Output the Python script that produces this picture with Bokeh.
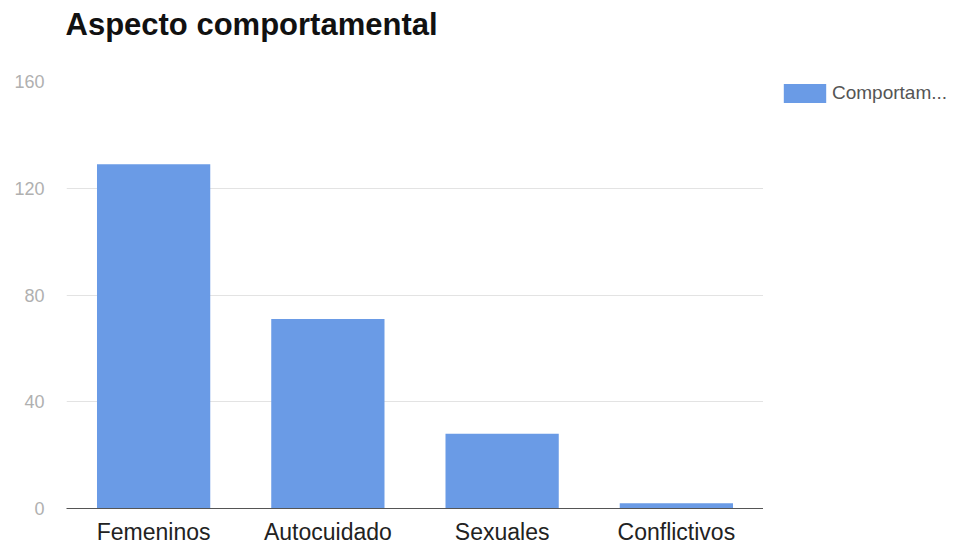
from bokeh.plotting import figure
from bokeh.models import ColumnDataSource, FixedTicker, Legend, LegendItem, Range1d, Title
from bokeh.layouts import row
from bokeh.embed import file_html
from bokeh.resources import INLINE

categories = ["Femeninos", "Autocuidado", "Sexuales", "Conflictivos"]
values = [129, 71, 28, 2]
y_ticks = [0, 40, 80, 120, 160]
series_name = "Comportam..."
title_text = "Aspecto comportamental"
bar_color = "#6a9be6"

src = ColumnDataSource(dict(cat=categories, val=values))

p = figure(x_range=categories, y_range=Range1d(0, 160), width=763, height=547,
           output_backend="svg", toolbar_location=None, title=None,
           min_border_left=66, min_border_right=0, min_border_top=0, min_border_bottom=38)
p.x_range.range_padding = 0

# spacer panel between frame and title, then the title itself (further out)
spacer = Title(text=" ", text_font_size="10px", standoff=19, vertical_align="top")
p.add_layout(spacer, "above")
main_title = Title(text=title_text, text_font="Liberation Sans", text_font_size="31px",
                   text_font_style="bold", text_color="#111111", offset=-1,
                   vertical_align="top", standoff=12)
p.add_layout(main_title, "above")

r = p.vbar(x="cat", top="val", width=0.65, source=src, color=bar_color, line_color=None)

p.outline_line_color = None
p.xgrid.grid_line_color = None
p.ygrid.grid_line_color = "#e3e3e3"
p.ygrid.grid_line_width = 1
p.yaxis.ticker = FixedTicker(ticks=y_ticks)
p.yaxis.axis_line_color = None
p.yaxis.major_tick_line_color = None
p.yaxis.minor_tick_line_color = None
p.yaxis.major_label_standoff = 16
p.yaxis.major_label_text_font = "Liberation Sans"
p.yaxis.major_label_text_font_size = "18px"
p.yaxis.major_label_text_color = "#b0b0b0"

p.xaxis.axis_line_color = "#555555"
p.xaxis.axis_line_width = 1
p.xaxis.major_tick_line_color = None
p.xaxis.minor_tick_line_color = None
p.xaxis.major_label_standoff = 4
p.xaxis.major_label_text_font = "Liberation Sans"
p.xaxis.major_label_text_font_size = "23px"
p.xaxis.major_label_text_color = "#222222"

# legend panel on the right
lp = figure(width=198, height=547, output_backend="svg", toolbar_location=None,
            x_range=Range1d(0, 1), y_range=Range1d(0, 1),
            min_border_left=15, min_border_right=0,
            min_border_top=76, min_border_bottom=0)
lp.axis.visible = False
lp.grid.visible = False
lp.outline_line_color = None
lr = lp.vbar(x=[0.5], top=[0], width=0, color=bar_color, line_color=None)
legend = Legend(items=[LegendItem(label=series_name, renderers=[lr])],
                location="top_left", glyph_width=53, glyph_height=24,
                label_text_font="Liberation Sans", label_text_font_size="19px",
                label_text_color="#555555", border_line_color=None,
                background_fill_alpha=0, margin=0, padding=0, label_standoff=1)
lp.add_layout(legend, "center")

layout = row(p, lp)
open("out.html", "w").write(file_html(layout, INLINE))
